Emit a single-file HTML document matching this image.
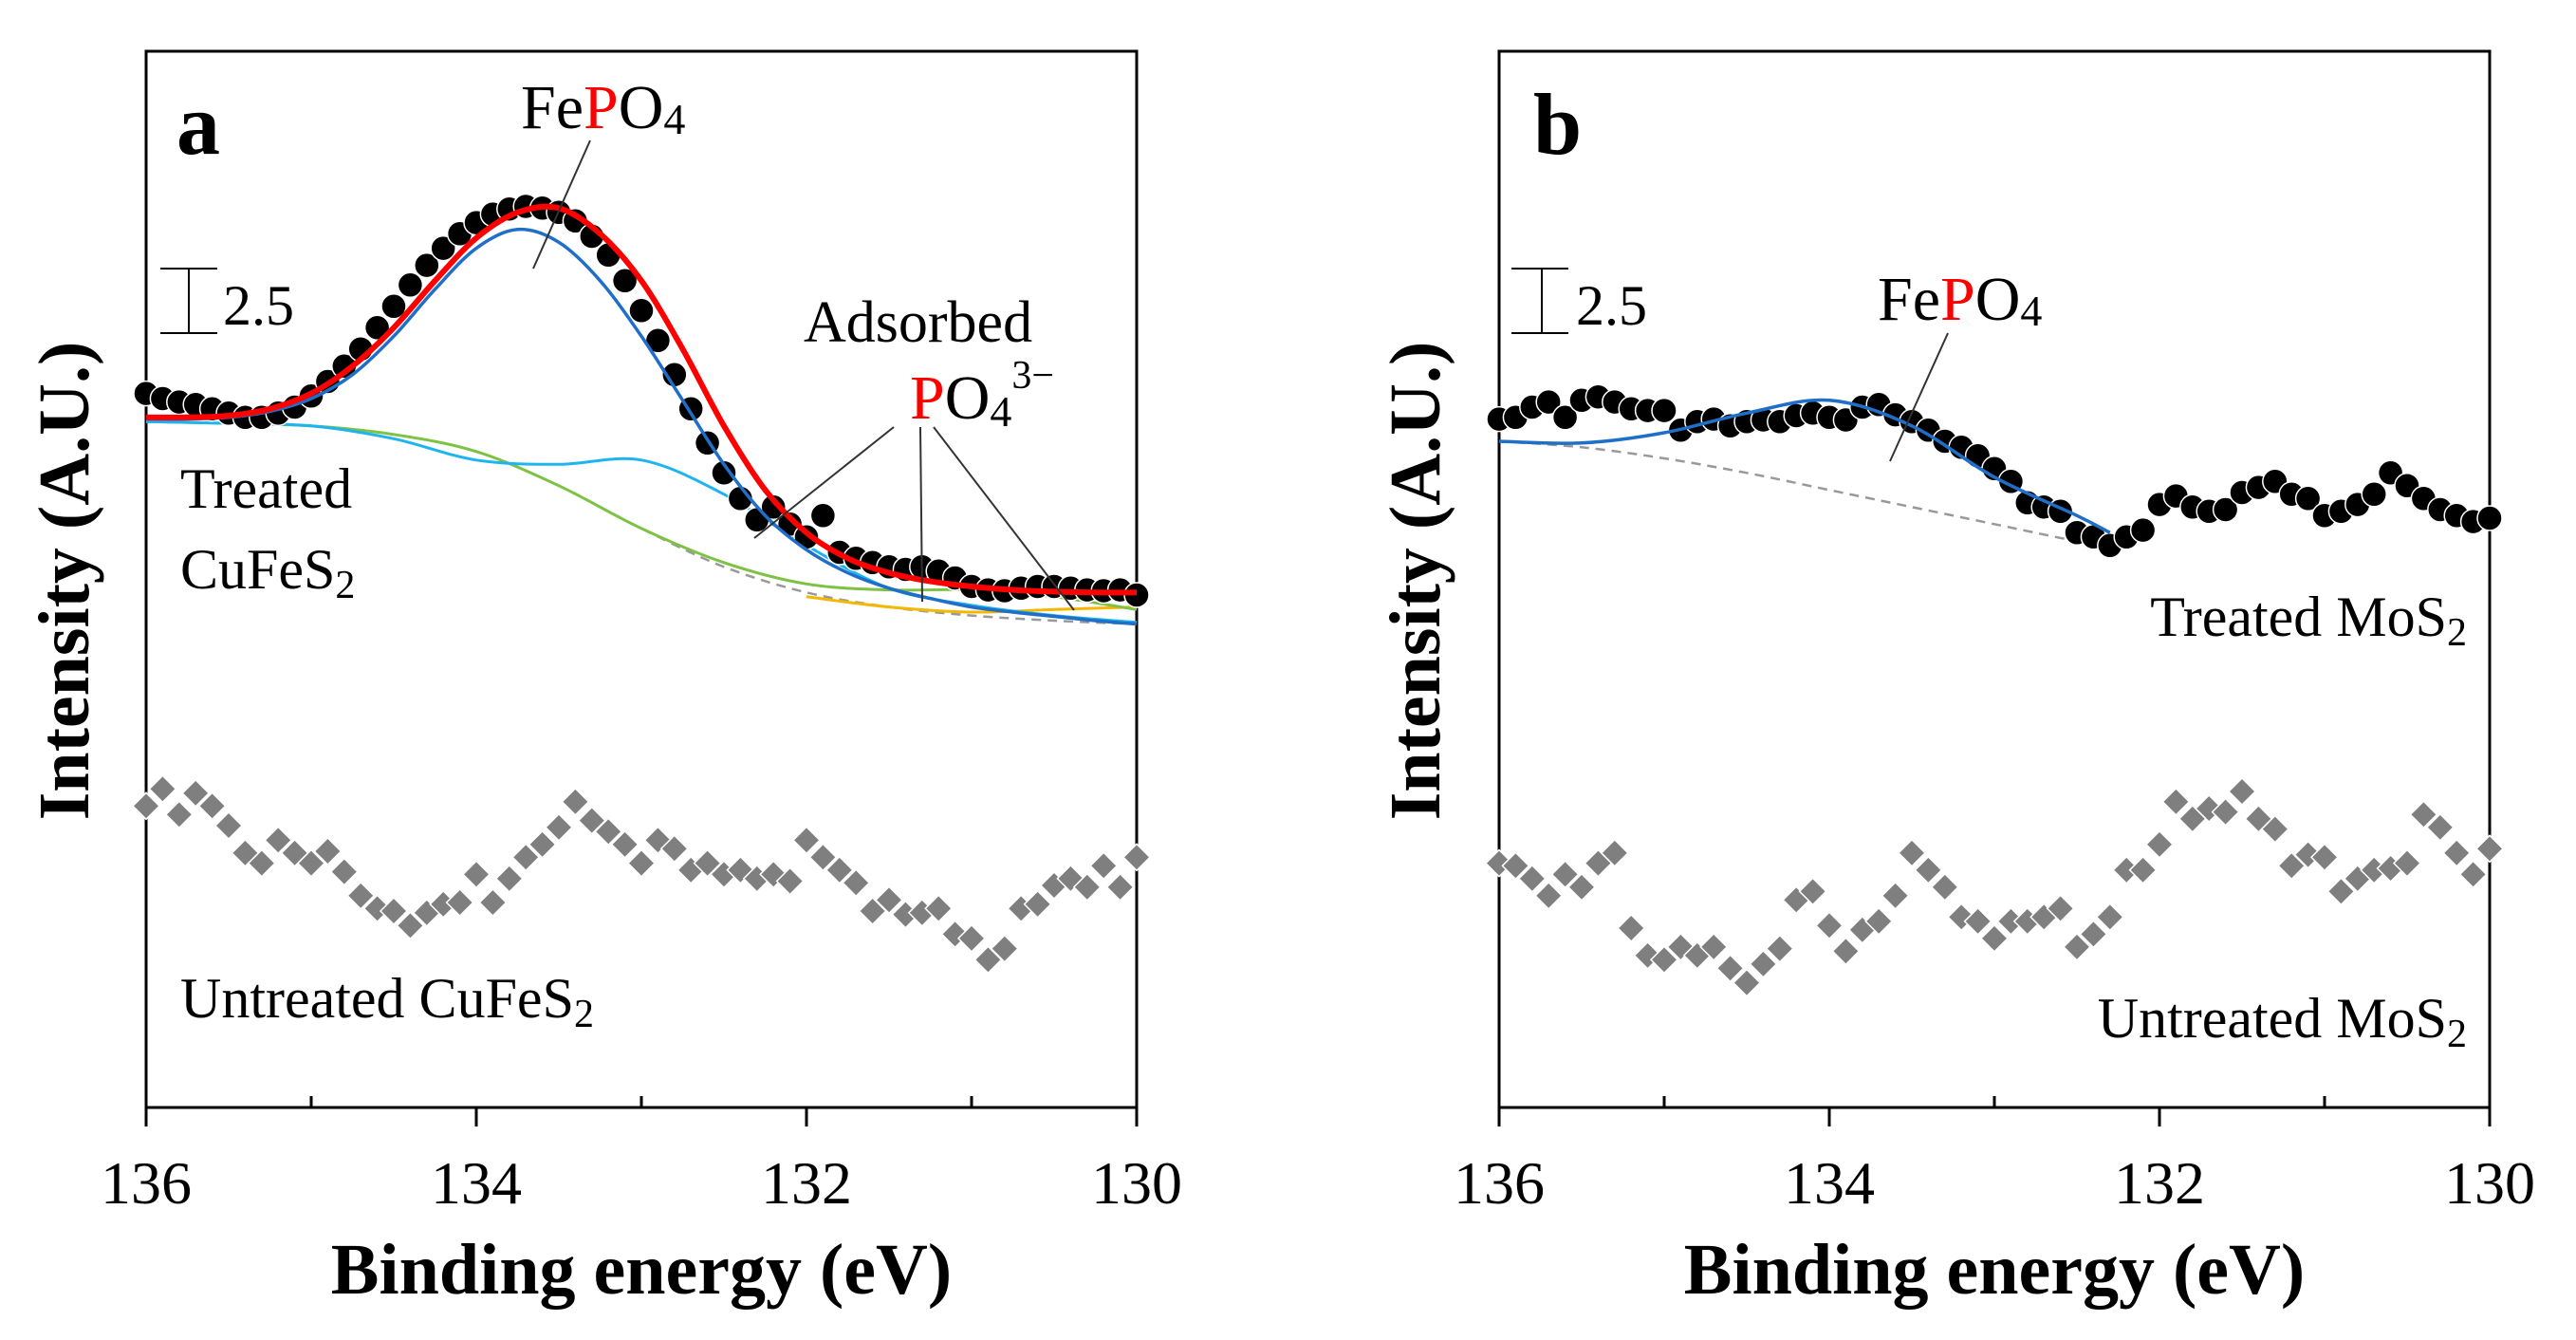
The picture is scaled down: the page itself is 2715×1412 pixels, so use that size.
<!DOCTYPE html>
<html><head><meta charset="utf-8"><style>
html,body{margin:0;padding:0;background:#fff;}
svg{display:block;font-family:"Liberation Serif",serif;}
</style></head><body>
<svg id="chart" width="2715" height="1412" viewBox="0 0 2715 1412" xmlns="http://www.w3.org/2000/svg">
<g id="pa"></g>
<g id="pb"></g>
</svg>
<script>
// ---- data ----
const energy = [];
for (let i = 0; i <= 60; i++) energy.push(+(136 - i * 0.1).toFixed(1));
const fitE25 = [136,135.75,135.5,135.25,135,134.75,134.5,134.25,134,133.75,133.5,133.25,133,132.75,132.5,132.25,132,131.75,131.5,131.25,131,130.75,130.5,130.25,130];
const fitE50 = [136,135.5,135,134.5,134,133.5,133,132.5,132,131.5,131,130.5,130];
const treatedCuFeS2 = [83.6,83.0,82.6,82.3,81.8,81.3,80.8,80.8,81.3,82.0,83.3,85.0,86.8,88.8,91.3,93.8,96.3,98.6,100.6,102.3,103.6,104.6,105.2,105.5,105.3,104.8,103.8,102.0,99.8,96.8,93.3,89.8,85.8,81.8,77.8,74.3,71.3,68.8,70.3,68.3,66.8,69.3,65.0,64.3,63.8,63.3,63.0,63.3,62.8,62.0,61.0,60.6,60.5,60.8,61.0,61.0,60.8,60.6,60.5,60.6,60.0];
const untreatedCuFeS2 = [35.3,37.3,34.3,36.8,35.3,33.0,29.8,28.6,31.3,29.8,28.6,30.0,27.6,24.8,23.3,23.0,21.3,22.8,23.8,24.0,27.3,24.0,26.8,29.3,30.8,32.8,35.8,33.6,32.3,30.8,28.6,31.3,30.3,27.8,28.6,27.3,27.8,26.8,27.3,26.5,31.3,29.3,27.8,26.3,23.0,24.3,22.6,22.8,23.3,20.3,19.8,17.3,18.6,23.3,23.8,26.0,26.8,25.8,28.3,25.8,29.3];
const fitEnvelopeA = [80.8,80.8,81.0,81.8,83.6,86.8,91.3,96.8,101.8,104.8,105.3,102.3,96.8,88.8,79.8,72.3,67.3,64.3,62.6,61.6,61.0,60.6,60.4,60.3,60.3];
const fitFePO4A = [80.6,80.6,80.8,81.5,83.0,85.8,90.3,95.8,100.6,102.8,101.3,96.8,90.3,82.8,75.3,69.3,65.3,62.6,60.8,59.6,58.6,58.0,57.5,57.0,56.6];
const fitAdsCyan = [80.3,80.1,79.8,78.3,75.8,75.3,75.8,71.8,65.8,60.8,58.8,57.6,56.8];
const fitAdsGreen = [80.3,80.1,79.8,78.8,76.8,72.8,67.8,63.8,61.3,60.6,60.6,59.8,58.3];
const fitBaselineA = [80.3,80.1,79.8,78.8,76.8,72.8,67.8,63.3,60.3,58.6,57.6,57.0,56.6];
const fitOrangeE = [132,131.5,131,130.5,130];
const fitOrange = [59.8,58.6,58.0,58.3,58.6];
const treatedMoS2 = [80.6,80.8,82.0,82.6,80.8,82.8,83.2,82.6,81.8,81.6,81.6,79.3,80.3,80.6,79.8,80.3,80.5,80.3,81.0,81.3,80.8,80.5,82.0,82.3,81.1,80.3,79.3,78.0,77.3,76.3,74.8,73.3,70.8,70.3,69.8,67.3,66.8,65.8,66.8,67.6,70.6,71.6,70.3,69.8,70.0,72.0,72.6,73.3,71.8,71.3,69.3,69.8,70.6,71.8,74.3,72.8,71.3,70.0,69.3,68.6,69.0];
const untreatedMoS2 = [28.6,28.3,26.8,24.8,27.3,25.8,28.6,29.8,21.0,17.8,17.3,18.8,17.8,18.8,16.3,14.6,16.8,18.6,24.3,25.3,21.3,18.3,20.8,21.8,24.8,29.8,27.8,25.8,22.3,21.8,19.8,21.8,21.8,22.3,23.3,18.8,20.3,22.3,27.8,27.8,30.8,35.8,33.8,35.0,34.6,37.0,33.8,32.6,28.3,29.6,29.3,25.3,26.8,27.8,28.0,28.6,34.3,32.8,29.8,27.3,30.3];
const fitEB = [136,135.5,135,134.5,134,133.5,133,132.5,132.3];
const fitFePO4B = [78.0,77.8,79.0,81.3,82.8,79.8,73.8,69.3,67.3];
const fitBaselineB = [78.0,77.3,76.0,74.3,72.3,70.3,68.3,66.3,65.8];
const tickMajor = [136,134,132,130];
const tickMinor = [135,133,131];

const NS = "http://www.w3.org/2000/svg";
function mk(parent, tag, attrs, text) {
  const e = document.createElementNS(NS, tag);
  for (const k in attrs) e.setAttribute(k, attrs[k]);
  if (text !== undefined) e.textContent = text;
  parent.appendChild(e);
  return e;
}
const TOP = 54, BOT = 1167;
function yS(v) { return 1167 - 9 * v; }
function makeX(x0, x1) { return e => x0 + (136 - e) / 6 * (x1 - x0); }
function smooth(pts) {
  let d = "M" + pts[0][0] + "," + pts[0][1];
  for (let i = 0; i < pts.length - 1; i++) {
    const p0 = pts[Math.max(0, i - 1)], p1 = pts[i], p2 = pts[i + 1], p3 = pts[Math.min(pts.length - 1, i + 2)];
    const c1 = [p1[0] + (p2[0] - p0[0]) / 6, p1[1] + (p2[1] - p0[1]) / 6];
    const c2 = [p2[0] - (p3[0] - p1[0]) / 6, p2[1] - (p3[1] - p1[1]) / 6];
    d += " C" + c1 + " " + c2 + " " + p2;
  }
  return d;
}
function curve(g, xS, es, vs, stroke, w, dash, name) {
  const p = mk(g, "path", {d: smooth(es.map((e, i) => [xS(e), yS(vs[i])])), fill: "none", stroke: stroke, "stroke-width": w});
  if (dash) p.setAttribute("stroke-dasharray", dash);
  
  
}
function circles(g, xS, vals, name) {
  vals.forEach((v, i) => {
    const c = mk(g, "circle", {cx: xS(energy[i]), cy: yS(v), r: 13, fill: "#000", stroke: "#fff", "stroke-width": 1.5});
    
    
  });
}
function diamonds(g, xS, vals, name) {
  vals.forEach((v, i) => {
    const x = xS(energy[i]), y = yS(v), s = 14;
    const p = mk(g, "polygon", {points: `${x},${y - s} ${x + s},${y} ${x},${y + s} ${x - s},${y}`, fill: "#7f7f7f", stroke: "#fff", "stroke-width": 1.5});
    
    
  });
}
function axes(g, x0, x1, yTitleX) {
  const xS = makeX(x0, x1);
  const f = mk(g, "rect", {x: x0, y: TOP, width: x1 - x0, height: BOT - TOP, fill: "none", stroke: "#000", "stroke-width": 3});
  
  
  tickMajor.forEach(t => {
    const l = mk(g, "line", {x1: xS(t), x2: xS(t), y1: BOT, y2: BOT + 20, stroke: "#000", "stroke-width": 3});
    
    
    const tx = mk(g, "text", {x: xS(t), y: 1268, "font-size": 64, "text-anchor": "middle"}, String(t));
    
    
  });
  tickMinor.forEach(t => {
    const l = mk(g, "line", {x1: xS(t), x2: xS(t), y1: BOT, y2: BOT - 12, stroke: "#000", "stroke-width": 3});
    
    
  });
  const xt = mk(g, "text", {x: (x0 + x1) / 2, y: 1363, "font-size": 76, "font-weight": "bold", "text-anchor": "middle"}, "Binding energy (eV)");
  
  
  const yt = mk(g, "text", {x: 0, y: 0, "font-size": 76, "font-weight": "bold", "text-anchor": "middle", transform: `translate(${yTitleX + 26},612) rotate(-90)`}, "Intensity (A.U.)");
  
  
  return xS;
}
function scaleBar(g, x, x0) {
  const b = mk(g, "path", {d: `M${x0},283 H${x0 + 60} M${x0},351 H${x0 + 60} M${x},283 V351`, stroke: "#000", "stroke-width": 2, fill: "none"});
  
  
  const t = mk(g, "text", {x: x + 36, y: 342, "font-size": 60}, "2.5");
  
  
}
function txt(g, attrs, html, name) {
  const t = mk(g, "text", attrs);
  t.innerHTML = html;
  
  
  return t;
}
function leader(g, x1, y1, x2, y2) {
  const l = mk(g, "line", {x1, y1, x2, y2, stroke: "#333", "stroke-width": 2});
  
  
}

// Panel a
const ga = document.getElementById("pa");
const xa = axes(ga, 154, 1198, 67);
curve(ga, xa, fitE50, fitBaselineA, "#999", 2.5, "10,7", "baseline-a");
curve(ga, xa, fitOrangeE, fitOrange, "#f5b800", 3, null, "fit-adsorbed-orange");
curve(ga, xa, fitE50, fitAdsGreen, "#7dc242", 3, null, "fit-adsorbed-green");
curve(ga, xa, fitE50, fitAdsCyan, "#1eb4f0", 3, null, "fit-adsorbed-cyan");
circles(ga, xa, treatedCuFeS2, "treated-cufes2-point");
curve(ga, xa, fitE25, fitFePO4A, "#1f6fc8", 3.5, null, "fit-fepo4-a");
curve(ga, xa, fitE25, fitEnvelopeA, "#ff0000", 6, null, "fit-envelope-a");
diamonds(ga, xa, untreatedCuFeS2, "untreated-cufes2-point");
txt(ga, {x: 186, y: 162, "font-size": 92, "font-weight": "bold"}, "a", "panel-label-a");
scaleBar(ga, 199, 169);
txt(ga, {x: 549, y: 135, "font-size": 66}, 'Fe<tspan fill="#ff0000">P</tspan>O<tspan font-size="46" dy="6">4</tspan>', "fepo4-label-a");
leader(ga, 622, 148, 562, 283);
txt(ga, {x: 847, y: 360, "font-size": 62}, "Adsorbed", "adsorbed-label");
txt(ga, {x: 959, y: 441, "font-size": 66}, '<tspan fill="#ff0000">P</tspan>O<tspan font-size="46" dy="8">4</tspan><tspan font-size="42" dy="-40">3−</tspan>', "po4-label");
leader(ga, 942, 450, 795, 567);
leader(ga, 970, 450, 972, 634);
leader(ga, 984, 450, 1132, 643);
txt(ga, {x: 190, y: 535, "font-size": 60}, "Treated", "treated-cufes2-label-1");
txt(ga, {x: 190, y: 620, "font-size": 60}, 'CuFeS<tspan font-size="42" dy="10">2</tspan>', "treated-cufes2-label-2");
txt(ga, {x: 190, y: 1072, "font-size": 60, "xml:space": "preserve"}, 'Untreated  CuFeS<tspan font-size="42" dy="10">2</tspan>', "untreated-cufes2-label");

// Panel b
const gb = document.getElementById("pb");
const xb = axes(gb, 1580, 2624, 1491);
curve(gb, xb, fitEB, fitBaselineB, "#999", 2.5, "10,7", "baseline-b");
circles(gb, xb, treatedMoS2, "treated-mos2-point");
curve(gb, xb, fitEB, fitFePO4B, "#1f6fc8", 3.5, null, "fit-fepo4-b");
diamonds(gb, xb, untreatedMoS2, "untreated-mos2-point");
txt(gb, {x: 1616, y: 162, "font-size": 92, "font-weight": "bold"}, "b", "panel-label-b");
scaleBar(gb, 1625, 1593);
txt(gb, {x: 1979, y: 337, "font-size": 66}, 'Fe<tspan fill="#ff0000">P</tspan>O<tspan font-size="46" dy="6">4</tspan>', "fepo4-label-b");
leader(gb, 2053, 351, 1992, 486);
txt(gb, {x: 2600, y: 670, "font-size": 60, "text-anchor": "end"}, 'Treated MoS<tspan font-size="42" dy="10">2</tspan>', "treated-mos2-label");
txt(gb, {x: 2600, y: 1093, "font-size": 60, "text-anchor": "end", "xml:space": "preserve"}, 'Untreated  MoS<tspan font-size="42" dy="10">2</tspan>', "untreated-mos2-label");
</script>
</body></html>
